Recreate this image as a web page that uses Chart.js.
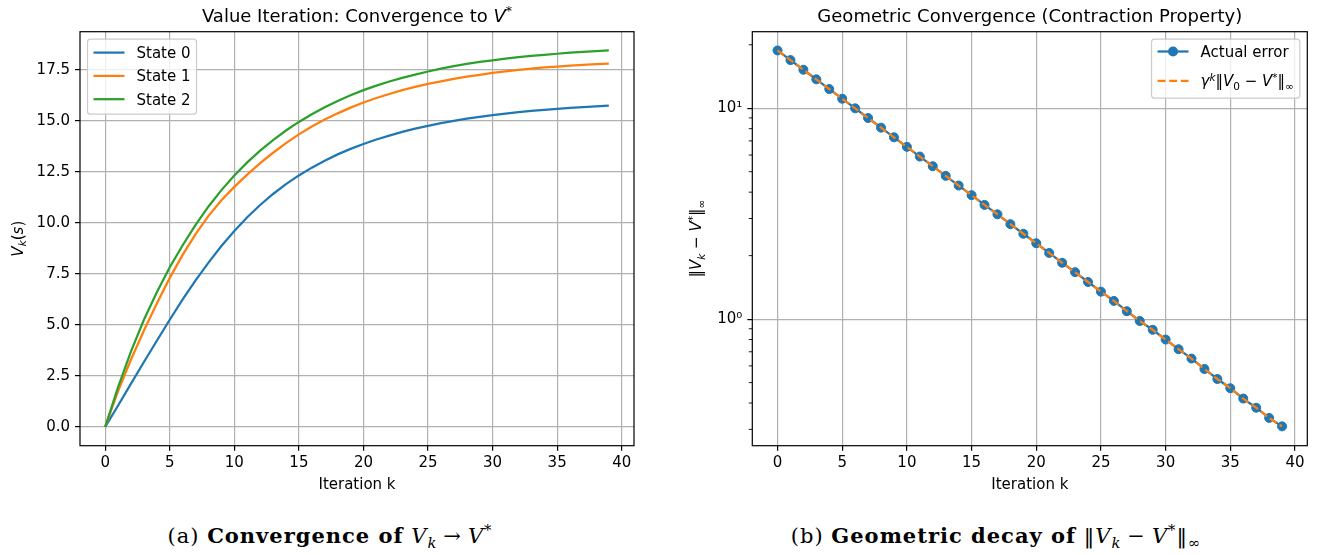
<!DOCTYPE html>
<html>
<head>
<meta charset="utf-8">
<script src="https://cdn.jsdelivr.net/npm/chart.js@4.4.1/dist/chart.umd.min.js"></script>
<style>
html,body{margin:0;padding:0;background:#fff;}
body{width:1318px;height:555px;position:relative;overflow:hidden;}
.box{position:absolute;top:0;height:500px;}
.cap{position:absolute;top:522px;width:600px;text-align:center;font-family:'DejaVu Serif',serif;font-size:21px;line-height:28px;letter-spacing:1px;color:#000;}
.cap i{font-weight:normal;}
.cap sub,.cap sup{font-size:70%;line-height:0;}
.cap .op{margin:0 6px;font-weight:normal;}
</style>
</head>
<body>
<div class="box" style="left:0;width:660px"><canvas id="left"></canvas></div>
<div class="box" style="left:660px;width:658px"><canvas id="right"></canvas></div>
<div class="cap" style="left:30px">(a) <b>Convergence of</b> <i>V<sub>k</sub></i><span class="op">→</span><i>V</i><sup>*</sup></div>
<div class="cap" style="left:696px">(b) <b>Geometric decay of</b> ‖<i>V<sub>k</sub></i><span class="op">−</span><i>V</i><sup>*</sup>‖<sub>∞</sub></div>
<script>
// iterations k
const iterations = [0,1,2,3,4,5,6,7,8,9,10,11,12,13,14,15,16,17,18,19,20,21,22,23,24,25,26,27,28,29,30,31,32,33,34,35,36,37,38,39];

// V_k(s) per state
const state0 = [0,1.05,2.12,3.18,4.22,5.25,6.25,7.18,8.05,8.86,9.6,10.27,10.87,11.41,11.89,12.32,12.7,13.04,13.35,13.62,13.86,14.08,14.27,14.45,14.61,14.75,14.88,14.99,15.10,15.19,15.27,15.35,15.42,15.48,15.53,15.58,15.63,15.67,15.70,15.74];
const state1 = [0,1.75,3.3,4.72,6.05,7.3,8.43,9.44,10.34,11.1,11.76,12.36,12.92,13.43,13.9,14.33,14.72,15.06,15.36,15.64,15.89,16.11,16.31,16.5,16.66,16.8,16.93,17.05,17.16,17.25,17.34,17.42,17.49,17.55,17.61,17.65,17.7,17.74,17.77,17.8];
const state2 = [0,1.95,3.7,5.25,6.6,7.82,8.9,9.9,10.8,11.6,12.32,12.96,13.53,14.05,14.52,14.94,15.32,15.66,15.97,16.25,16.5,16.72,16.92,17.1,17.26,17.41,17.55,17.67,17.78,17.88,17.96,18.04,18.11,18.17,18.23,18.28,18.33,18.37,18.41,18.44];

// ||V_k - V*||_inf and the gamma^k bound (log axis)
const actualError = [18.8,16.92,15.23,13.71,12.33,11.1,9.99,8.99,8.09,7.28,6.56,5.9,5.31,4.78,4.3,3.87,3.48,3.14,2.82,2.54,2.29,2.06,1.85,1.67,1.5,1.35,1.22,1.09,0.98,0.89,0.8,0.72,0.65,0.58,0.52,0.47,0.42,0.38,0.34,0.31];
const boundError  = [18.8,16.92,15.23,13.71,12.33,11.1,9.99,8.99,8.09,7.28,6.56,5.9,5.31,4.78,4.3,3.87,3.48,3.14,2.82,2.54,2.29,2.06,1.85,1.67,1.5,1.35,1.22,1.09,0.98,0.89,0.8,0.72,0.65,0.58,0.52,0.47,0.42,0.38,0.34,0.31];

// ticks
const xTicks = [0,5,10,15,20,25,30,35,40];
const vTicks = [0,2.5,5,7.5,10,12.5,15,17.5];
const logMajor = [1,10];
const logMajorLabels = ['10⁰','10¹'];
const logMinor = [0.3,0.4,0.5,0.6,0.7,0.8,0.9,2,3,4,5,6,7,8,9,20];

// axis ranges
const xRange = [-1.95,40.95];
const vRange = [-0.92,19.36];
const errRange = [0.251,23.07];

const C0='#1f77b4', C1='#ff7f0e', C2='#2ca02c';
const FAM="'DejaVu Sans', sans-serif";
Chart.defaults.font.family=FAM;
Chart.defaults.color='#000';

function pts(vals){ return vals.map((v,i)=>({x:iterations[i],y:v})); }

function segFont(kind,size){
  const it=kind.includes('i'), small=kind.includes('sub')||kind.includes('sup');
  return (it?'italic ':'')+(small?size*0.7:size)+'px '+FAM;
}
function richWidth(ctx,segs,size){
  let w=0; segs.forEach(([t,k])=>{ ctx.font=segFont(k,size); w+=ctx.measureText(t).width; }); return w;
}
function drawRich(ctx,segs,x,y,size){
  segs.forEach(([t,k])=>{
    ctx.font=segFont(k,size);
    let dy=0; if(k.includes('sub')) dy=size*0.22; if(k.includes('sup')) dy=-size*0.38;
    ctx.fillText(t,x,y+dy); x+=ctx.measureText(t).width;
  });
}

// frame, titles, y label, minor ticks and legend inside the axes
const deco={
  id:'deco',
  afterDatasetsDraw(chart,args,o){
    const {ctx,chartArea:a}=chart;
    ctx.save();
    if(o.minor){
      const ys=chart.scales.y; ctx.strokeStyle='#000'; ctx.lineWidth=0.9;
      o.minor.forEach(v=>{ const py=ys.getPixelForValue(v); ctx.beginPath(); ctx.moveTo(a.left-3.5,py); ctx.lineTo(a.left,py); ctx.stroke(); });
    }
    ctx.strokeStyle='#000'; ctx.lineWidth=1.2;
    ctx.strokeRect(a.left,a.top,a.right-a.left,a.bottom-a.top);
    ctx.fillStyle='#000'; ctx.textBaseline='alphabetic';
    const tw=richWidth(ctx,o.title,18);
    drawRich(ctx,o.title,(a.left+a.right)/2-tw/2,a.top-10,18);
    ctx.save();
    ctx.translate(a.left-o.yTitleOffset,(a.top+a.bottom)/2); ctx.rotate(-Math.PI/2);
    const yw=richWidth(ctx,o.yTitle,15); drawRich(ctx,o.yTitle,-yw/2,0,15);
    ctx.restore();
    // legend
    const L=o.legend, fs=15, pad=6, hl=31, gap=12;
    let tmax=0; L.items.forEach(it=>{ tmax=Math.max(tmax,richWidth(ctx,it.segs,fs)); });
    const bw=pad+hl+gap+tmax+pad, bh=L.h;
    const bx=L.side==='left'?a.left+7.5:a.right-7.5-bw, by=a.top+7.5;
    ctx.beginPath(); ctx.roundRect(bx,by,bw,bh,3);
    ctx.fillStyle='rgba(255,255,255,0.8)'; ctx.fill();
    ctx.strokeStyle='#cccccc'; ctx.lineWidth=1.2; ctx.stroke();
    L.items.forEach((it,i)=>{
      const cy=by+L.rows[i], x0=bx+pad;
      ctx.strokeStyle=it.color; ctx.lineWidth=2.25; ctx.setLineDash(it.dash||[]);
      ctx.beginPath(); ctx.moveTo(x0,cy); ctx.lineTo(x0+hl,cy); ctx.stroke(); ctx.setLineDash([]);
      if(it.marker){ ctx.fillStyle=it.color; ctx.beginPath(); ctx.arc(x0+hl/2,cy,5,0,Math.PI*2); ctx.fill(); }
      ctx.fillStyle='#000'; drawRich(ctx,it.segs,x0+hl+gap,cy+5.3,fs);
    });
    ctx.restore();
  }
};

function xScale(){
  return {
    type:'linear', min:xRange[0], max:xRange[1],
    afterBuildTicks:s=>{ s.ticks=xTicks.map(v=>({value:v})); },
    afterFit:s=>{ s.height=54.3; },
    ticks:{font:{size:15},color:'#000',padding:3,maxRotation:0,callback:v=>String(v)},
    grid:{color:'#b0b0b0',lineWidth:1.2,tickLength:5,tickColor:'#000'},
    border:{display:false},
    title:{display:true,text:'Iteration k',font:{size:15},color:'#000',padding:{top:0,bottom:6}}
  };
}

function lineDs(label,vals,color,order){
  return {label,data:pts(vals),borderColor:color,backgroundColor:color,borderWidth:2.25,pointRadius:0,tension:0,order};
}

new Chart(document.getElementById('left'),{
  type:'line',
  data:{datasets:[lineDs('State 0',state0,C0,2),lineDs('State 1',state1,C1,1),lineDs('State 2',state2,C2,0)]},
  options:{
    responsive:true,maintainAspectRatio:false,animation:false,
    layout:{padding:{top:31.7,right:26,left:0,bottom:0}},
    plugins:{legend:{display:false},tooltip:{enabled:false},
      deco:{
        title:[['Value Iteration: Convergence to ',''],['V','i'],['*','sup']],
        yTitle:[['V','i'],['k','isub'],['(',''],['s','i'],[')','']],
        yTitleOffset:57,
        legend:{side:'left',h:75,rows:[13.4,36.7,60],items:[
          {segs:[['State 0','']],color:C0},
          {segs:[['State 1','']],color:C1},
          {segs:[['State 2','']],color:C2}]}
      }},
    scales:{
      x:xScale(),
      y:{type:'linear',min:vRange[0],max:vRange[1],
        afterBuildTicks:s=>{ s.ticks=vTicks.map(v=>({value:v})); },
        afterFit:s=>{ s.width=80; },
        ticks:{font:{size:15},color:'#000',padding:5,callback:v=>Number(v).toFixed(1)},
        grid:{color:'#b0b0b0',lineWidth:1.2,tickLength:5,tickColor:'#000'},
        border:{display:false}}
    }
  },
  plugins:[deco]
});

new Chart(document.getElementById('right'),{
  type:'line',
  data:{datasets:[
    {label:'Actual error',data:pts(actualError),borderColor:C0,backgroundColor:C0,borderWidth:2.25,
     pointRadius:4.5,pointBorderWidth:1,pointBackgroundColor:C0,pointBorderColor:C0,tension:0,order:1},
    {label:'bound',data:pts(boundError),borderColor:C1,backgroundColor:C1,borderWidth:2.25,borderDash:[8,3.6],
     pointRadius:0,tension:0,order:0}
  ]},
  options:{
    responsive:true,maintainAspectRatio:false,animation:false,
    layout:{padding:{top:31.7,right:10.7,left:0,bottom:0}},
    plugins:{legend:{display:false},tooltip:{enabled:false},
      deco:{
        title:[['Geometric Convergence (Contraction Property)','']],
        yTitle:[['‖',''],['V','i'],['k','isub'],[' − ',''],['V','i'],['*','sup'],['‖',''],['∞','sub']],
        yTitleOffset:51,
        minor:logMinor,
        legend:{side:'right',h:59,rows:[12.3,41.7],items:[
          {segs:[['Actual error','']],color:C0,marker:true},
          {segs:[['γ','i'],['k','isup'],['‖',''],['V','i'],['0','sub'],[' − ',''],['V','i'],['*','sup'],['‖',''],['∞','sub']],color:C1,dash:[8,3.6]}]}
      }},
    scales:{
      x:xScale(),
      y:{type:'logarithmic',min:errRange[0],max:errRange[1],
        afterBuildTicks:s=>{ s.ticks=logMajor.map(v=>({value:v})); },
        afterFit:s=>{ s.width=92.3; },
        ticks:{font:{size:15},color:'#000',padding:5,callback:v=>logMajorLabels[logMajor.indexOf(v)]||''},
        grid:{color:'#b0b0b0',lineWidth:1.2,tickLength:5,tickColor:'#000'},
        border:{display:false}}
    }
  },
  plugins:[deco]
});
</script>
</body>
</html>
